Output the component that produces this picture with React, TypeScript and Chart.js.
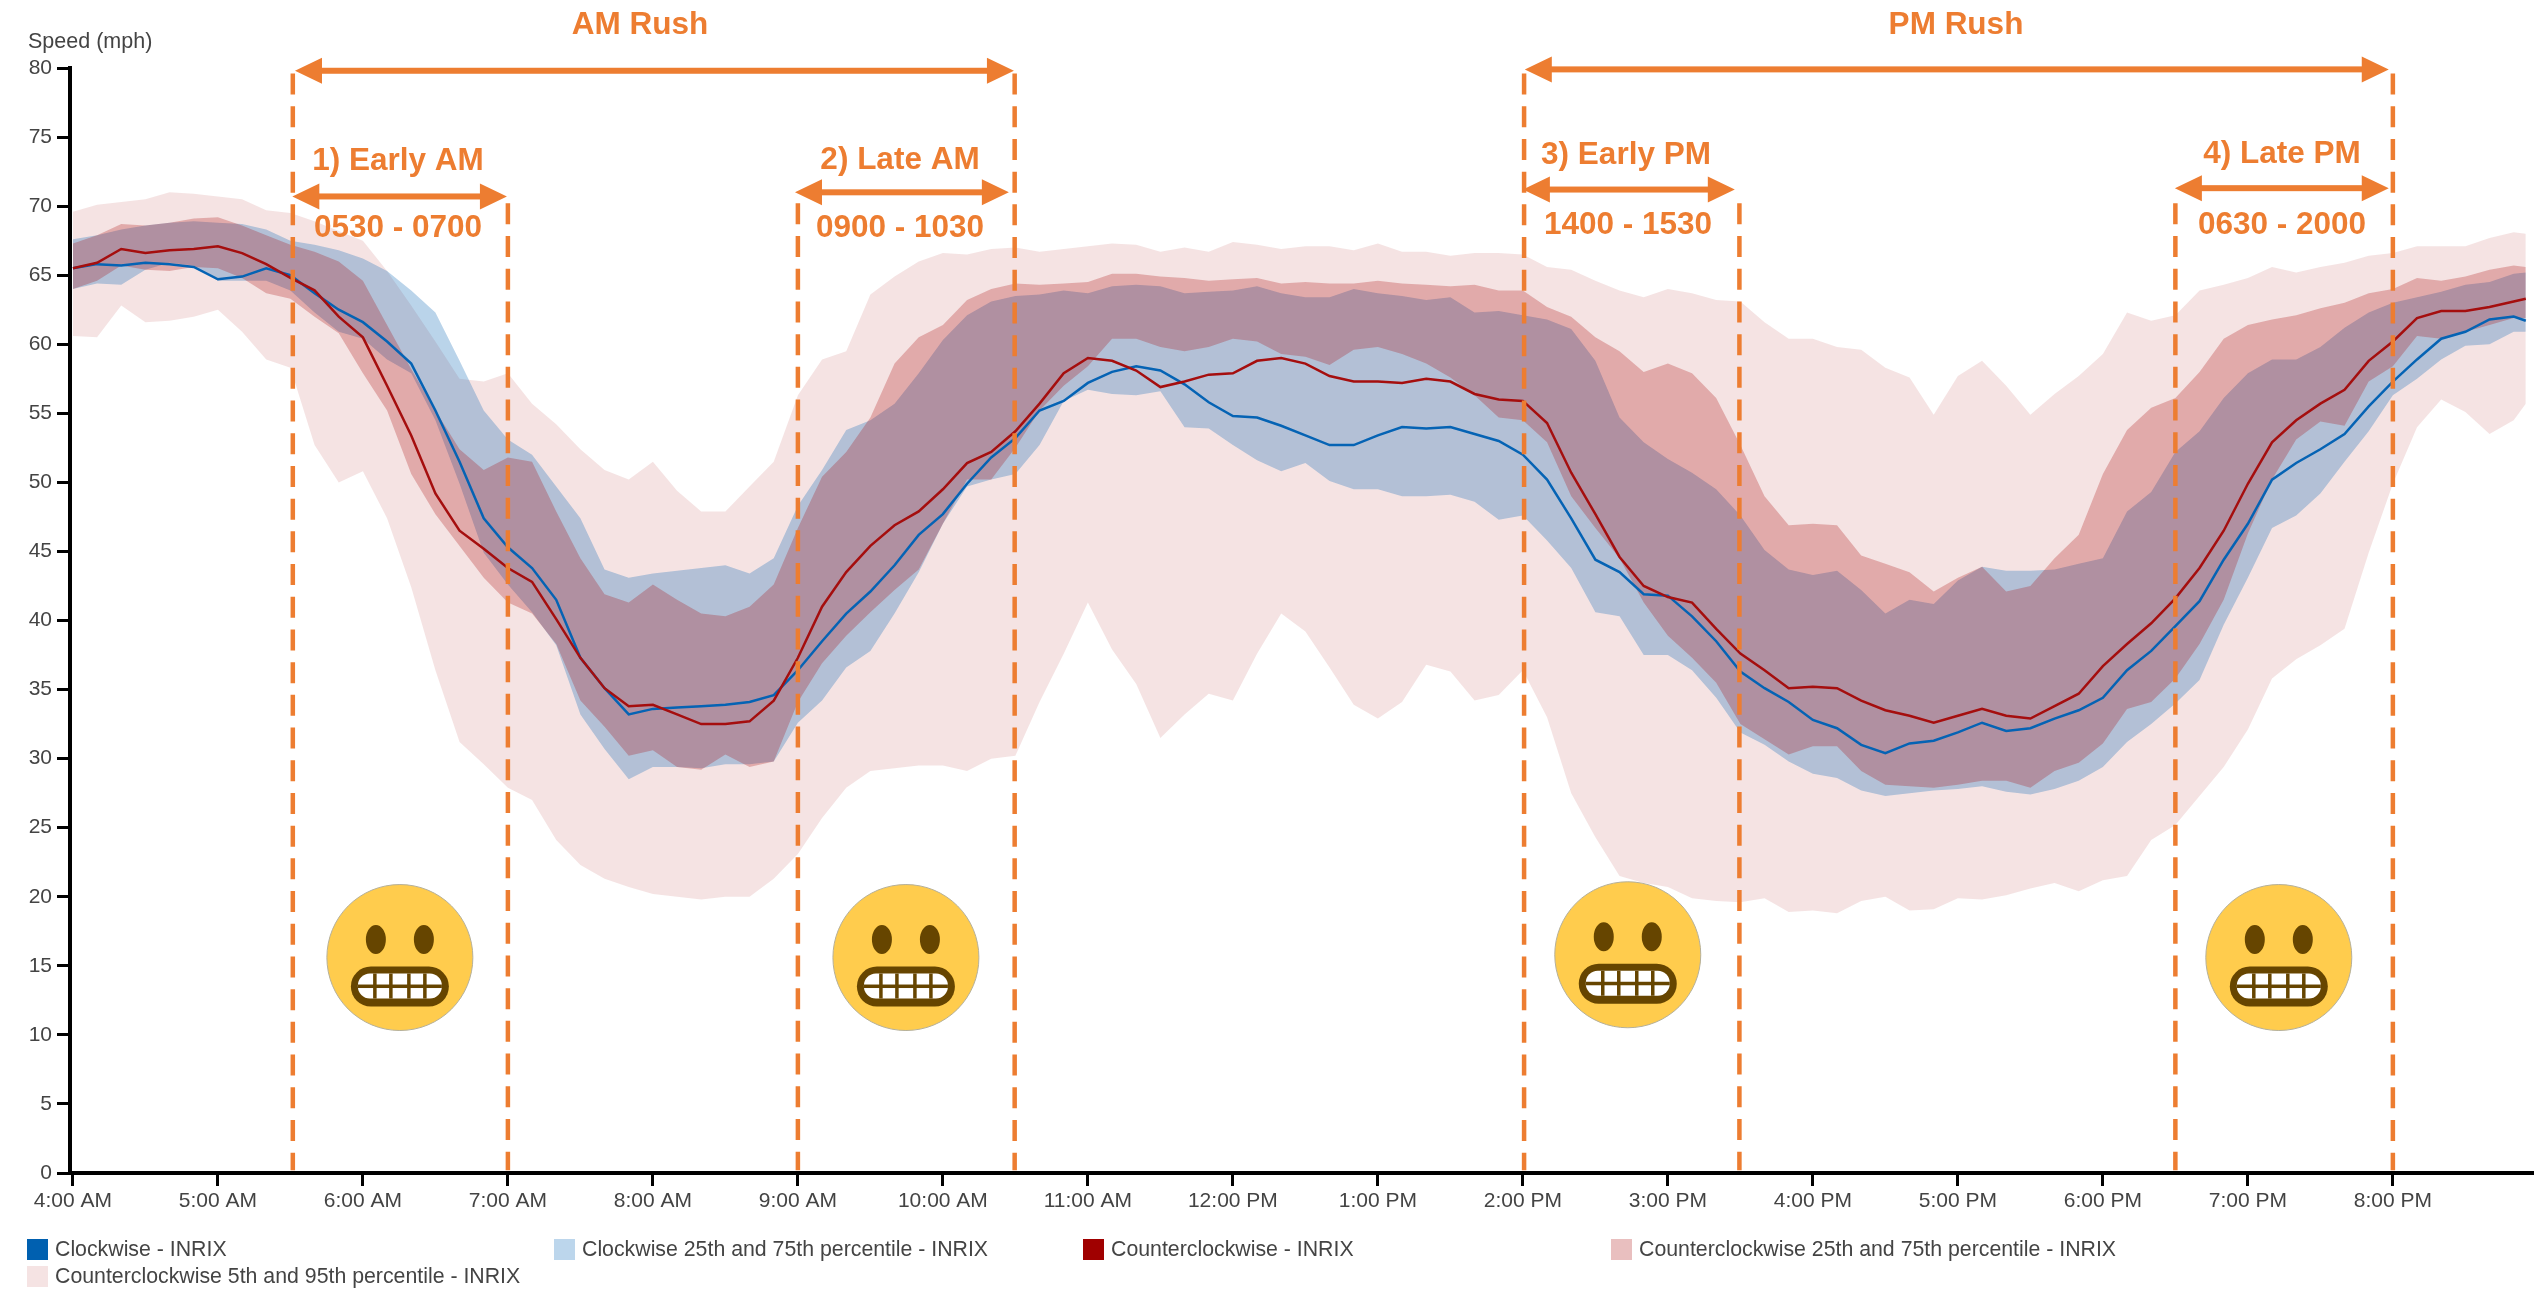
import React, { useEffect, useRef } from "react";
import { Chart, registerables } from "chart.js";

Chart.register(...registerables);

const FONT = '"Liberation Sans", Arial, sans-serif';
const ORANGE = "#ed7d31";

// minutes after midnight
const minutes = [240,250,260,270,280,290,300,310,320,330,340,350,360,370,380,390,400,410,420,430,440,450,460,470,480,490,500,510,520,530,540,550,560,570,580,590,600,610,620,630,640,650,660,670,680,690,700,710,720,730,740,750,760,770,780,790,800,810,820,830,840,850,860,870,880,890,900,910,920,930,940,950,960,970,980,990,1000,1010,1020,1030,1040,1050,1060,1070,1080,1090,1100,1110,1120,1130,1140,1150,1160,1170,1180,1190,1200,1210,1220,1230,1240,1250,1255];

const clockwise = [65.5,65.8,65.7,65.9,65.8,65.6,64.7,64.9,65.5,65.0,63.7,62.5,61.6,60.2,58.6,55.2,51.5,47.4,45.3,43.8,41.5,37.3,35.1,33.2,33.6,33.7,33.8,33.9,34.1,34.6,36.4,38.5,40.5,42.1,44.0,46.2,47.7,49.9,51.8,53.2,55.2,55.9,57.2,58.0,58.4,58.1,57.1,55.8,54.8,54.7,54.1,53.4,52.7,52.7,53.4,54.0,53.9,54.0,53.5,53.0,52.0,50.2,47.4,44.4,43.5,41.9,41.8,40.3,38.5,36.3,35.1,34.1,32.8,32.2,31.0,30.4,31.1,31.3,31.9,32.6,32.0,32.2,32.9,33.5,34.4,36.4,37.8,39.6,41.4,44.4,47.0,50.2,51.4,52.4,53.5,55.5,57.3,58.9,60.4,60.9,61.8,62.0,61.7];

const counterclockwise = [65.5,65.9,66.9,66.6,66.8,66.9,67.1,66.6,65.8,64.8,63.9,62.0,60.5,57.0,53.4,49.2,46.5,45.2,43.8,42.8,40.1,37.3,35.1,33.8,33.9,33.2,32.5,32.5,32.7,34.2,37.3,41.0,43.5,45.4,46.9,47.9,49.5,51.4,52.2,53.7,55.7,57.9,59.0,58.8,58.1,56.9,57.3,57.8,57.9,58.8,59.0,58.6,57.7,57.3,57.3,57.2,57.5,57.3,56.4,56.0,55.9,54.3,50.7,47.7,44.6,42.5,41.7,41.3,39.4,37.6,36.4,35.1,35.2,35.1,34.2,33.5,33.1,32.6,33.1,33.6,33.1,32.9,33.8,34.7,36.7,38.3,39.8,41.6,43.8,46.5,49.9,52.9,54.5,55.7,56.7,58.8,60.2,61.9,62.4,62.4,62.7,63.1,63.3];

const clockwiseP75 = [67.6,67.9,68.3,68.6,68.8,68.9,68.8,68.7,68.3,67.5,67.2,66.8,66.2,65.3,63.9,62.3,58.8,55.2,53.1,52.0,49.7,47.4,43.7,43.1,43.4,43.6,43.8,44.0,43.4,44.5,48.3,50.9,53.8,54.5,55.7,57.9,60.3,62.1,63.1,63.5,63.6,63.9,63.7,64.2,64.3,64.2,63.7,63.8,63.9,64.2,63.7,63.4,63.4,64.0,63.7,63.5,63.2,63.4,62.3,62.4,62.1,61.8,61.1,58.8,54.7,52.9,51.7,50.7,49.5,47.6,45.1,43.7,43.3,43.6,42.2,40.5,41.5,41.2,42.9,43.9,43.6,43.6,43.7,44.1,44.5,47.9,49.3,52.2,53.7,56.1,57.9,58.9,58.9,59.8,61.2,62.3,63.0,63.4,63.8,64.3,64.5,65.1,65.2];

const clockwiseP25 = [64.0,64.4,64.3,65.4,65.9,65.7,64.6,64.6,64.6,63.9,62.3,60.9,60.4,58.9,57.9,54.5,49.9,44.9,42.6,40.6,38.2,33.2,30.7,28.5,29.4,29.4,29.3,29.6,29.6,29.8,32.6,34.2,36.6,37.8,40.5,43.5,47.0,49.7,50.2,50.6,52.7,55.9,56.7,56.4,56.3,56.6,54.0,53.9,52.7,51.6,50.8,51.4,50.1,49.5,49.5,49.0,49.0,49.1,48.6,47.3,47.6,45.8,43.8,40.6,40.3,37.5,37.5,36.4,34.4,31.9,31.0,29.8,28.9,28.6,27.7,27.3,27.5,27.7,27.8,28.0,27.6,27.4,27.8,28.4,29.4,31.2,32.5,34.0,35.7,39.7,43.1,46.7,47.6,49.2,51.5,53.7,56.3,57.5,58.9,59.9,60.0,60.9,60.9];

const counterP75 = [67.3,67.9,68.7,68.6,68.8,69.1,69.2,68.6,67.9,67.2,66.7,66.0,64.6,61.4,58.2,55.2,52.4,50.9,51.8,51.5,47.9,44.5,41.9,41.3,42.6,41.5,40.5,40.3,41.0,42.6,46.7,50.4,52.2,54.7,58.6,60.5,61.4,63.2,64.0,64.4,64.3,64.4,64.5,65.1,65.1,64.9,64.8,64.6,64.7,64.8,64.4,64.5,64.4,64.4,64.6,64.4,64.3,64.2,64.3,63.9,63.9,62.7,62.0,60.5,59.5,58.0,58.6,57.9,56.1,52.7,49.0,46.9,47.0,46.9,44.7,44.1,43.5,42.1,43.1,43.9,42.1,42.5,44.5,46.2,50.6,53.8,55.4,56.1,58.0,60.4,61.4,61.8,62.1,62.6,63.0,63.7,64.0,64.8,64.6,64.9,65.4,65.7,65.6];

const counterP25 = [64.0,64.6,65.7,65.4,65.3,65.6,65.5,64.8,63.7,63.3,62.0,60.8,57.9,55.2,50.6,47.7,45.4,43.1,41.3,40.5,38.3,34.2,32.3,30.2,30.6,29.4,29.2,30.3,29.4,29.8,34.1,36.9,38.9,40.6,42.2,43.7,47.0,50.2,50.2,52.5,55.2,57.0,58.4,60.4,60.4,59.8,59.5,59.8,60.4,60.2,59.3,59.1,58.5,59.6,59.8,59.3,58.6,57.6,56.3,54.7,54.5,52.9,49.0,46.7,44.5,41.3,38.9,37.3,35.5,32.5,31.4,30.3,30.9,30.9,29.1,28.1,28.0,27.9,28.1,28.4,28.4,27.9,29.1,29.7,31.1,33.6,34.1,35.8,38.3,41.5,46.3,50.2,53.1,54.4,54.1,57.3,58.4,60.6,60.4,60.9,61.4,61.9,61.9];

const counterP95 = [69.6,70.1,70.3,70.5,71.0,70.9,70.7,70.5,69.7,69.5,68.9,68.2,67.5,65.3,62.8,60.2,57.5,57.3,57.9,55.7,54.2,52.4,50.9,50.2,51.5,49.4,47.9,47.9,49.7,51.5,56.3,58.9,59.5,63.6,64.9,66.0,66.6,66.5,66.9,67.0,66.7,66.9,67.1,67.3,67.2,66.7,67.0,66.7,67.4,67.2,66.9,67.1,67.1,66.8,67.3,66.7,66.7,66.4,66.6,66.6,66.5,65.6,65.4,64.6,63.9,63.4,64.0,63.7,63.2,63.1,61.6,60.4,60.4,59.8,59.6,58.3,57.6,54.9,57.7,58.8,57.0,54.9,56.4,57.7,59.3,62.3,61.7,62.1,63.9,64.3,64.8,65.6,65.2,65.6,65.9,66.4,66.6,67.1,67.1,67.1,67.7,68.1,68.0];

const counterP5 = [60.6,60.5,62.8,61.6,61.7,62.0,62.5,60.9,58.9,58.3,52.7,50.0,50.8,47.4,42.4,36.4,31.2,29.6,27.9,27.0,24.1,22.3,21.3,20.7,20.2,20.0,19.8,20.0,20.0,21.3,23.1,25.7,27.9,29.1,29.3,29.5,29.5,29.1,30.0,30.2,34.1,37.6,41.3,37.9,35.4,31.5,33.2,34.7,34.2,37.6,40.5,39.2,36.6,33.9,32.9,34.1,36.8,36.3,34.2,34.6,36.4,33.0,27.5,24.3,21.5,21.0,20.7,19.9,19.7,19.6,19.9,18.9,19.0,18.8,19.7,20.0,19.0,19.1,19.9,19.8,20.1,20.6,21.0,20.4,21.2,21.5,24.1,25.2,27.3,29.4,32.1,35.8,37.2,38.2,39.4,44.9,49.9,54.0,56.0,55.1,53.5,54.5,55.7];

const tickMinutes = [240,300,360,420,480,540,600,660,720,780,840,900,960,1020,1080,1140,1200];
const tickLabels = ["4:00 AM","5:00 AM","6:00 AM","7:00 AM","8:00 AM","9:00 AM","10:00 AM","11:00 AM","12:00 PM","1:00 PM","2:00 PM","3:00 PM","4:00 PM","5:00 PM","6:00 PM","7:00 PM","8:00 PM"];

const legendLabels = [
  "Clockwise - INRIX",
  "Clockwise 25th and 75th percentile - INRIX",
  "Counterclockwise - INRIX",
  "Counterclockwise 25th and 75th percentile - INRIX",
  "Counterclockwise 5th and 95th percentile - INRIX",
];
const legendColors = ["#0060b0", "#bcd6ec", "#a00000", "#e9bfbf", "#f5e3e3"];
const legendLeft = [27, 554, 1083, 1611, 27];
const legendTop = [1239, 1239, 1239, 1239, 1266];

// [minute, top of the dashed line in mph]
const dashedLines = [[331,79.6],[420,70.2],[540,70.2],[629.7,79.6],[840.5,79.6],[929.6,70.2],[1110,70.2],[1200,79.6]];
// [from minute, to minute, mph]
const arrows = [[331.9,629.4,79.8],[840.8,1198.3,79.9],[330.8,419.6,70.7],[538.8,627.3,71.0],[840,927.7,71.2],[1109.8,1198.3,71.3]];
// [text, centre px x, centre px y]
const notes: [string, number, number][] = [
  ["AM Rush",640,25],["PM Rush",1956,25],
  ["1) Early AM",398,161],["0530 - 0700",398,228],
  ["2) Late AM",900,160],["0900 - 1030",900,228],
  ["3) Early PM",1626,155],["1400 - 1530",1628,225],
  ["4) Late PM",2282,154],["0630 - 2000",2282,225],
];
// [minute, mph]
const faces = [[375.3,15.6],[584.7,15.6],[883.4,15.8],[1152.8,15.6]];

function drawFace(ctx: CanvasRenderingContext2D, cx: number, cy: number) {
  ctx.save();
  ctx.translate(cx, cy);
  ctx.fillStyle = "#ffcc4d";
  ctx.strokeStyle = "#b5b09a";
  ctx.lineWidth = 1;
  ctx.beginPath();
  ctx.arc(0, 0, 73, 0, Math.PI * 2);
  ctx.fill();
  ctx.stroke();
  ctx.fillStyle = "#664500";
  ctx.beginPath();
  ctx.ellipse(-24, -18, 10, 14.5, 0, 0, Math.PI * 2);
  ctx.ellipse(24, -18, 10, 14.5, 0, 0, Math.PI * 2);
  ctx.fill();
  ctx.beginPath();
  ctx.roundRect(-49, 9, 98, 40, 20);
  ctx.fill();
  ctx.fillStyle = "#ffffff";
  ctx.beginPath();
  ctx.roundRect(-42, 16, 84, 25, 12);
  ctx.fill();
  ctx.fillStyle = "#664500";
  for (const bx of [-25, -9, 9, 25]) ctx.fillRect(bx - 1.75, 16, 3.5, 25);
  ctx.fillRect(-42, 27, 84, 3.5);
  ctx.restore();
}

function drawArrow(ctx: CanvasRenderingContext2D, x1: number, x2: number, y: number) {
  const headW = 27;
  const headH = 13;
  ctx.fillStyle = ORANGE;
  ctx.fillRect(x1 + headW - 1, y - 3, x2 - x1 - 2 * headW + 2, 6);
  ctx.beginPath();
  ctx.moveTo(x1, y);
  ctx.lineTo(x1 + headW, y - headH);
  ctx.lineTo(x1 + headW, y + headH);
  ctx.closePath();
  ctx.moveTo(x2, y);
  ctx.lineTo(x2 - headW, y - headH);
  ctx.lineTo(x2 - headW, y + headH);
  ctx.closePath();
  ctx.fill();
}

const annotationPlugin = {
  id: "rushAnnotations",
  afterDatasetsDraw(chart: any) {
    const { ctx, scales } = chart;
    const xs = scales.x;
    const ys = scales.y;
    ctx.save();
    ctx.strokeStyle = ORANGE;
    ctx.lineWidth = 4.5;
    ctx.setLineDash([21, 11.7]);
    for (const [m, top] of dashedLines) {
      const x = xs.getPixelForValue(m);
      ctx.beginPath();
      ctx.moveTo(x, ys.getPixelForValue(top));
      ctx.lineTo(x, ys.getPixelForValue(0.2));
      ctx.stroke();
    }
    ctx.setLineDash([]);
    for (const [a, b, v] of arrows) {
      drawArrow(ctx, xs.getPixelForValue(a), xs.getPixelForValue(b), ys.getPixelForValue(v));
    }
    for (const [m, v] of faces) {
      drawFace(ctx, xs.getPixelForValue(m), ys.getPixelForValue(v));
    }
    ctx.fillStyle = ORANGE;
    ctx.font = `bold 31.5px ${FONT}`;
    ctx.textAlign = "center";
    ctx.textBaseline = "middle";
    for (const [t, x, y] of notes) ctx.fillText(t, x, y);
    ctx.fillStyle = "#444444";
    ctx.font = `21.5px ${FONT}`;
    ctx.textAlign = "left";
    ctx.fillText("Speed (mph)", 28, 42);
    ctx.restore();
  },
};

const band = (values: number[], color: string | null, order: number, label: string) => ({
  label,
  data: minutes.map((m, i) => ({ x: m, y: values[i] })),
  borderWidth: 0,
  pointRadius: 0,
  tension: 0,
  backgroundColor: color ?? "transparent",
  fill: color ? "+1" : false,
  order,
});

const line = (values: number[], color: string, order: number, label: string) => ({
  label,
  data: minutes.map((m, i) => ({ x: m, y: values[i] })),
  borderColor: color,
  borderWidth: 2.5,
  pointRadius: 0,
  tension: 0,
  fill: false,
  order,
});

export default function App() {
  const ref = useRef<HTMLCanvasElement | null>(null);

  useEffect(() => {
    document.body.style.margin = "0";
    const chart = new Chart(ref.current as HTMLCanvasElement, {
      type: "line",
      data: {
        datasets: [
          line(counterclockwise, "#a50e0e", 0, legendLabels[2]),
          line(clockwise, "#0563b4", 1, legendLabels[0]),
          band(counterP75, "rgba(166,0,0,0.25)", 2, legendLabels[3]),
          band(counterP25, null, 3, "Counterclockwise 25th percentile"),
          band(clockwiseP75, "rgba(0,96,176,0.27)", 4, legendLabels[1]),
          band(clockwiseP25, null, 5, "Clockwise 25th percentile"),
          band(counterP95, "rgba(166,0,0,0.11)", 6, legendLabels[4]),
          band(counterP5, null, 7, "Counterclockwise 5th percentile"),
        ] as any,
      },
      options: {
        animation: false,
        responsive: false,
        maintainAspectRatio: false,
        layout: { padding: { top: 68, left: 0, right: 0, bottom: 0 } },
        plugins: { legend: { display: false }, tooltip: { enabled: false }, title: { display: false } },
        scales: {
          x: {
            type: "linear",
            min: 238.8,
            max: 1258.4,
            afterBuildTicks: (s: any) => {
              s.ticks = tickMinutes.map((value) => ({ value }));
            },
            afterFit: (s: any) => {
              s.height = 116;
            },
            border: { display: true, color: "#000000", width: 4 },
            grid: { display: true, drawOnChartArea: false, drawTicks: true, tickLength: 13, tickWidth: 3, tickColor: "#000000" },
            ticks: {
              autoSkip: false,
              maxRotation: 0,
              minRotation: 0,
              padding: 3,
              color: "#444444",
              font: { family: FONT, size: 21 },
              callback: (v: any) => tickLabels[tickMinutes.indexOf(Number(v))] ?? "",
            },
          },
          y: {
            type: "linear",
            min: 0,
            max: 80,
            afterFit: (s: any) => {
              s.width = 70;
            },
            border: { display: true, color: "#000000", width: 4 },
            grid: { display: true, drawOnChartArea: false, drawTicks: true, tickLength: 13, tickWidth: 3, tickColor: "#000000" },
            ticks: {
              stepSize: 5,
              padding: 5,
              color: "#444444",
              font: { family: FONT, size: 21 },
            },
          },
        },
      },
      plugins: [annotationPlugin],
    } as any);
    return () => chart.destroy();
  }, []);

  return (
    <div style={{ position: "absolute", left: 0, top: 0, width: 2534, height: 1289, overflow: "hidden", fontFamily: FONT, background: "#ffffff" }}>
      <canvas ref={ref} width={2534} height={1289} style={{ display: "block", width: 2534, height: 1289 }} />
      {legendLabels.map((label, i) => (
        <div key={label} style={{ position: "absolute", left: legendLeft[i], top: legendTop[i], height: 21, display: "flex", alignItems: "center", whiteSpace: "nowrap", fontSize: 21.3, color: "#444444" }}>
          <span style={{ width: 21, height: 21, background: legendColors[i], marginRight: 7, flex: "none" }} />
          <span>{label}</span>
        </div>
      ))}
    </div>
  );
}
